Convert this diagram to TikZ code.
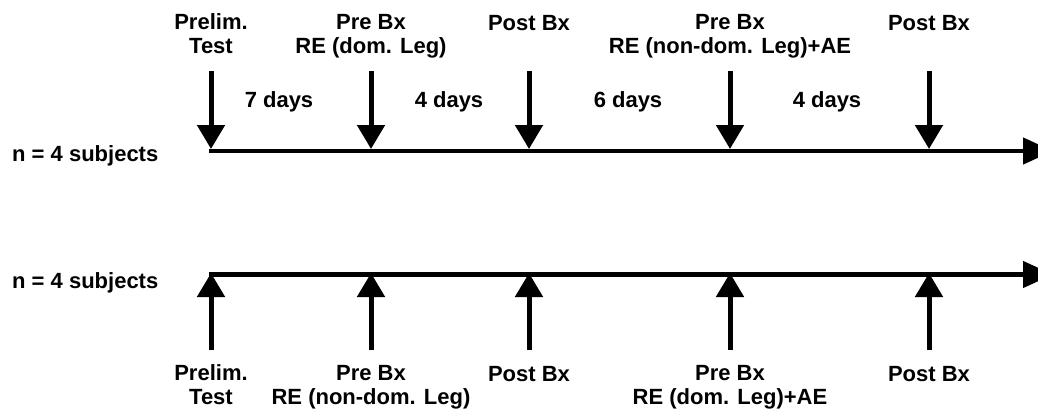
\documentclass[tikz,border=0pt]{standalone}
\usepackage{fontspec}
\setmainfont{Liberation Sans}
\usetikzlibrary{arrows.meta}
\begin{document}
\begin{tikzpicture}[x=1pt,y=-1pt,
  lbl/.style={font=\fontsize{22}{23.5}\selectfont\bfseries, inner sep=0pt, anchor=base, align=center},
  axis/.style={line width=4.5pt, -{Triangle[width=26pt,length=30pt]}},
  event/.style={line width=5pt, -{Triangle[width=27pt,length=24pt]}}]
\useasboundingbox (0,0) rectangle (1038,410);

% ---- upper group: timeline with events pointing down ----
\coordinate (uL) at (209,151);
\coordinate (uR) at (1053,151);
\draw[axis] (uL) -- (uR);
\node[lbl, anchor=base west] (un) at (12,161.7) {n = 4 subjects};

\foreach \name/\x in {ua/211, ub/371, uc/529, ud/730, ue/929}{
  \coordinate (\name s) at (\x,71);
  \coordinate (\name t) at (\x,149);
  \draw[event] (\name s) -- (\name t);
}
% two-line labels are placed by the baseline of their last line
\node[lbl] (ual) at (211,53) {Prelim.\\Test};
\node[lbl] (ubl) at (371,53) {Pre Bx\\RE (dom. Leg)};
\node[lbl] (ucl) at (529,30) {Post Bx};
\node[lbl] (udl) at (730,53) {Pre Bx\\RE (non-dom. Leg)+AE};
\node[lbl] (uel) at (929,30) {Post Bx};

\node[lbl] (d1) at (279,107) {7 days};
\node[lbl] (d2) at (449,107) {4 days};
\node[lbl] (d3) at (628,107) {6 days};
\node[lbl] (d4) at (827,107) {4 days};

% ---- lower group: timeline with events pointing up ----
\coordinate (lL) at (209,274.5);
\coordinate (lR) at (1053,274.5);
\draw[axis] (lL) -- (lR);
\node[lbl, anchor=base west] (ln) at (12,288) {n = 4 subjects};

\foreach \name/\x in {la/211, lb/371, lc/529, ld/730, le/929}{
  \coordinate (\name s) at (\x,350);
  \coordinate (\name t) at (\x,273);
  \draw[event] (\name s) -- (\name t);
}
\node[lbl] (lal) at (211,404) {Prelim.\\Test};
\node[lbl] (lbl) at (371,404) {Pre Bx\\RE (non-dom. Leg)};
\node[lbl] (lcl) at (529,381) {Post Bx};
\node[lbl] (ldl) at (730,404) {Pre Bx\\RE (dom. Leg)+AE};
\node[lbl] (lel) at (929,381) {Post Bx};
\end{tikzpicture}
\end{document}
